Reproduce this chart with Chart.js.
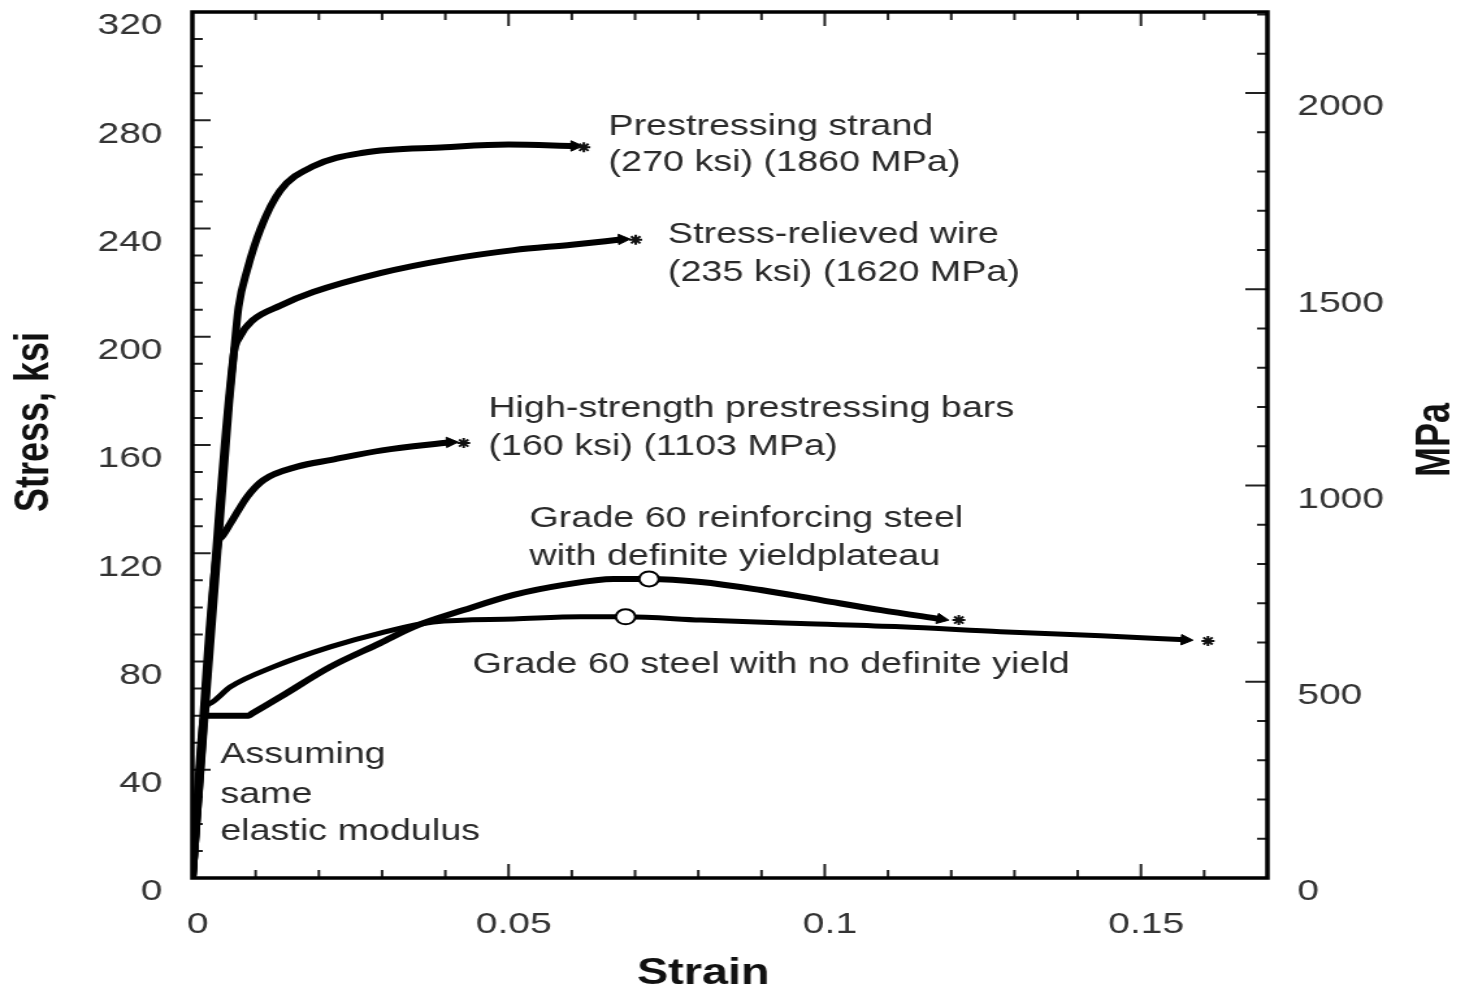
<!DOCTYPE html>
<html lang="en">
<head>
<meta charset="UTF-8">
<title>Stress-strain curves of reinforcing and prestressing steels</title>
<style>
  html, body { margin: 0; padding: 0; background: #fff; overflow: hidden; }
  #grafico { display: block; }
</style>
</head>
<body>
<!-- the source figure is stretched sideways: the canvas is drawn narrower and widened by its inline style -->
<canvas id="grafico" width="1127" height="984" style="width:1465px;height:984px"></canvas>

<script src="https://cdn.jsdelivr.net/npm/chart.js"></script>
<script>
// axis ranges and tick labels
var KSI_TO_MPA = 6.895;
var strainMax = 0.17;
var stressMax = 320;
var xTickLabels = ['0', '0.05', '0.1', '0.15'];
var ksiTickLabels = ['0', '40', '80', '120', '160', '200', '240', '280', '320'];
var mpaTickLabels = ['0', '500', '1000', '1500', '2000'];

// curves: strain and stress (ksi)
var strandStrain = [0, 0.0058, 0.0068, 0.0073, 0.0087, 0.0108, 0.0139, 0.0191, 0.0270, 0.0400, 0.0500, 0.0605];
var strandStress = [0, 175, 200, 211, 225, 240, 254, 263, 268, 270, 271, 270.5];

var wireStrain = [0, 0.0065, 0.0075, 0.0095, 0.0139, 0.0191, 0.0297, 0.0403, 0.0508, 0.0600, 0.0680];
var wireStress = [0, 193, 200, 206, 211.5, 216.5, 223.5, 228.5, 232, 234, 236];

var barStrain = [0, 0.0041, 0.0046, 0.0060, 0.0087, 0.0112, 0.0166, 0.0220, 0.0300, 0.0408];
var barStress = [0, 124, 126, 131, 141, 147, 152, 154.5, 158, 161];

var plateauStrain = [0, 0.0020, 0.0089, 0.0094, 0.0139, 0.0218, 0.0297, 0.0350, 0.0429, 0.0508, 0.0587, 0.0666, 0.0722, 0.0804, 0.0899, 0.0994, 0.1089, 0.1184];
var plateauStress = [0, 60, 60, 60.7, 66.9, 78, 86.8, 92.8, 99, 104.6, 108.3, 110.5, 110.5, 109.4, 106.4, 102.7, 99, 95.7];

var noYieldStrain = [0, 0.0022, 0.0028, 0.0060, 0.0128, 0.0218, 0.0297, 0.0381, 0.0508, 0.0614, 0.0685, 0.0804, 0.0962, 0.1120, 0.1278, 0.1437, 0.1570];
var noYieldStress = [0, 63, 64.5, 70.6, 78, 85.4, 90.5, 94.6, 95.7, 96.5, 96.5, 95.3, 94, 92.8, 91, 89.5, 88];

// open circles (ultimate strength) and rupture stars
var circleStrain = [0.0722, 0.0685];
var circleStress = [110.5, 96.5];
var starStrain = [0.0619, 0.0701, 0.0429, 0.1212, 0.1606];
var starStress = [270, 235.8, 160.7, 95.3, 87.6];

// notes written on the plot, placed in data units
var notas = [
   { text: 'Prestressing strand', x: 0.0658, y: 277.6 },
   { text: '(270 ksi) (1860 MPa)', x: 0.0658, y: 264.2 },
   { text: 'Stress-relieved wire', x: 0.0752, y: 237.6 },
   { text: '(235 ksi) (1620 MPa)', x: 0.0752, y: 223.6 },
   { text: 'High-strength prestressing bars', x: 0.0468, y: 173.3 },
   { text: '(160 ksi) (1103 MPa)', x: 0.0468, y: 159.3 },
   { text: 'Grade 60 reinforcing steel', x: 0.0533, y: 132.7 },
   { text: 'with definite yieldplateau', x: 0.0533, y: 118.6 },
   { text: 'Grade 60 steel with no definite yield', x: 0.0443, y: 78.7 },
   { text: 'Assuming', x: 0.0044, y: 45.5 },
   { text: 'same', x: 0.0044, y: 30.7 },
   { text: 'elastic modulus', x: 0.0044, y: 17 }
];

var fonte = '"Liberation Sans", Arial, Helvetica, sans-serif';
Chart.defaults.font.family = fonte;
Chart.defaults.color = '#333';

function pontos(xs, ys) {
   return xs.map(function (x, i) { return { x: x, y: ys[i] }; });
}

// one curve, with a small arrow head on its last point
function curva(xs, ys, largura, giro) {
   var ultimo = xs.length - 1;
   return {
      data: pontos(xs, ys),
      borderColor: '#000',
      backgroundColor: '#000',
      borderWidth: largura,
      cubicInterpolationMode: 'monotone',
      pointStyle: 'triangle',
      pointRotation: giro,
      pointRadius: function (c) { return c.dataIndex === ultimo ? 6 : 0; },
      pointBorderWidth: 1,
      order: 3
   };
}

// frame, inward tick marks, notes and the axis titles
var desenhos = {
   id: 'desenhos',
   beforeDatasetsDraw: function (chart) {
      var ctx = chart.ctx, a = chart.chartArea;
      var sx = chart.scales.x, sy = chart.scales.y, sm = chart.scales.mpa;
      ctx.save();
      ctx.strokeStyle = '#222';
      ctx.lineWidth = 2;
      ctx.beginPath();
      for (var i = 0; i <= 17; i++) {
         var px = sx.getPixelForValue(i * 0.01);
         var h = i % 5 === 0 ? 14 : 8;
         ctx.moveTo(px, a.bottom); ctx.lineTo(px, a.bottom - h);
         ctx.moveTo(px, a.top); ctx.lineTo(px, a.top + h);
      }
      for (var k = 0; k <= stressMax; k += 10) {
         var py = sy.getPixelForValue(k);
         var w = k % 40 === 0 ? 14 : 8;
         ctx.moveTo(a.left, py); ctx.lineTo(a.left + w, py);
      }
      for (var m = 0; m <= 2200; m += 100) {
         var pm = sm.getPixelForValue(m);
         var wm = m % 500 === 0 ? 17 : 8;
         ctx.moveTo(a.right, pm); ctx.lineTo(a.right - wm, pm);
      }
      ctx.stroke();
      ctx.lineWidth = 3.5;
      ctx.strokeStyle = '#000';
      ctx.strokeRect(a.left, a.top, a.right - a.left, a.bottom - a.top);
      ctx.restore();
   },
   afterDraw: function (chart) {
      var ctx = chart.ctx;
      var sx = chart.scales.x, sy = chart.scales.y;
      ctx.save();
      ctx.fillStyle = '#2a2a2a';
      ctx.font = '29px ' + fonte;
      ctx.textAlign = 'left';
      ctx.textBaseline = 'middle';
      notas.forEach(function (n) {
         ctx.fillText(n.text, sx.getPixelForValue(n.x), sy.getPixelForValue(n.y));
      });

      ctx.fillStyle = '#111';
      ctx.font = 'bold 36px ' + fonte;
      ctx.textAlign = 'center';
      ctx.save();
      ctx.translate(27, 422);
      ctx.rotate(-Math.PI / 2);
      ctx.fillText('Stress, ksi', 0, 0);
      ctx.restore();
      ctx.save();
      ctx.translate(1105, 440);
      ctx.rotate(-Math.PI / 2);
      ctx.fillText('MPa', 0, 0);
      ctx.restore();
      // the strain title sits low, cut by the bottom edge as in the figure
      ctx.textBaseline = 'alphabetic';
      ctx.fillText('Strain', 541, 984);
      ctx.restore();
   }
};

var ctx = document.getElementById('grafico').getContext('2d');

var grafico = new Chart(ctx, {
   type: 'line',
   data: {
      datasets: [
         {
            data: pontos(circleStrain, circleStress),
            showLine: false,
            pointStyle: 'circle',
            pointRadius: 7.5,
            pointBackgroundColor: '#fff',
            pointBorderColor: '#000',
            pointBorderWidth: 2,
            order: 1
         },
         {
            data: pontos(starStrain, starStress),
            showLine: false,
            pointStyle: 'star',
            pointRadius: 5,
            pointBorderColor: '#111',
            pointBorderWidth: 2,
            order: 1
         },
         curva(strandStrain, strandStress, 6, 90),
         curva(wireStrain, wireStress, 6, 88),
         curva(barStrain, barStress, 6, 88),
         curva(plateauStrain, plateauStress, 6, 101),
         curva(noYieldStrain, noYieldStress, 5, 93)
      ]
   },
   options: {
      responsive: false,
      animation: false,
      events: [],
      layout: { padding: { top: 12, left: 0, right: 0, bottom: 0 } },
      plugins: {
         legend: { display: false },
         tooltip: { enabled: false }
      },
      scales: {
         x: {
            type: 'linear',
            min: 0,
            max: strainMax,
            grid: { display: false, drawTicks: false },
            border: { display: false },
            ticks: {
               padding: 29,
               labelOffset: 4,
               maxRotation: 0,
               font: { size: 30 },
               callback: function (v, i) { return xTickLabels[i]; }
            },
            afterBuildTicks: function (s) {
               s.ticks = xTickLabels.map(function (t) { return { value: Number(t) }; });
            },
            afterFit: function (s) { s.height = 106; s.paddingLeft = 0; s.paddingRight = 0; }
         },
         y: {
            type: 'linear',
            position: 'left',
            min: 0,
            max: stressMax,
            grid: { display: false, drawTicks: false },
            border: { display: false },
            ticks: {
               padding: 23,
               labelOffset: 14,
               font: { size: 30 },
               callback: function (v, i) { return ksiTickLabels[i]; }
            },
            afterBuildTicks: function (s) {
               s.ticks = ksiTickLabels.map(function (t) { return { value: Number(t) }; });
            },
            afterFit: function (s) { s.width = 148; s.paddingTop = 0; s.paddingBottom = 0; }
         },
         mpa: {
            type: 'linear',
            position: 'right',
            min: 0,
            max: stressMax * KSI_TO_MPA,
            grid: { display: false, drawTicks: false },
            border: { display: false },
            ticks: {
               padding: 23,
               labelOffset: 14,
               font: { size: 30 },
               callback: function (v, i) { return mpaTickLabels[i]; }
            },
            afterBuildTicks: function (s) {
               s.ticks = mpaTickLabels.map(function (t) { return { value: Number(t) }; });
            },
            afterFit: function (s) { s.width = 152; s.paddingTop = 0; s.paddingBottom = 0; }
         }
      }
   },
   plugins: [desenhos]
});
</script>
</body>
</html>
